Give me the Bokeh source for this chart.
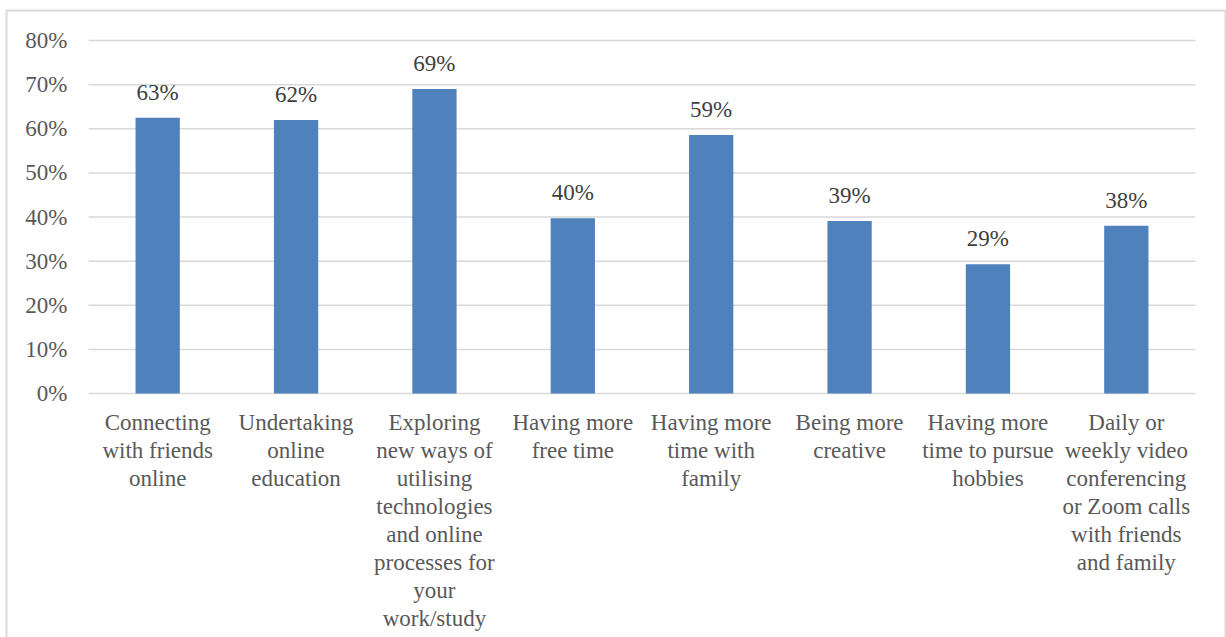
from bokeh.plotting import figure
from bokeh.models import ColumnDataSource, LabelSet, Range1d
from bokeh.embed import file_html
from bokeh.resources import INLINE

categories = [
    "Connecting\nwith friends\nonline",
    "Undertaking\nonline\neducation",
    "Exploring\nnew ways of\nutilising\ntechnologies\nand online\nprocesses for\nyour\nwork/study",
    "Having more\nfree time",
    "Having more\ntime with\nfamily",
    "Being more\ncreative",
    "Having more\ntime to pursue\nhobbies",
    "Daily or\nweekly video\nconferencing\nor Zoom calls\nwith friends\nand family",
]
values = [62.5, 62.0, 69.0, 39.7, 58.6, 39.1, 29.3, 38.0]
value_labels = ["63%", "62%", "69%", "40%", "59%", "39%", "29%", "38%"]
y_ticks = [0, 10, 20, 30, 40, 50, 60, 70, 80]
y_tick_labels = ["0%", "10%", "20%", "30%", "40%", "50%", "60%", "70%", "80%"]

FONT = "Liberation Serif, serif"
TEXT = "#595959"
GRID = "#d9d9d9"
BAR = "#4F81BD"

# canvas / plot-area geometry in pixels
W, H = 1226, 637
PL, PR, PT, PB = 88, 1195, 40, 393          # plot area edges
n = len(categories)
cw = (PR - PL) / n                          # px per category
ppu = (PB - PT) / (y_ticks[-1] - y_ticks[0])  # px per percent

x0 = -0.5 - PL / cw
x1 = n - 0.5 + (W - PR) / cw
y1 = y_ticks[-1] + PT / ppu
y0 = y_ticks[0] - (H - PB) / ppu

def px_x(px):
    return x0 + px / cw

def px_y(py):
    return y1 - py / ppu

idx = list(range(n))
bars = ColumnDataSource(dict(x=idx, val=values, lab=value_labels))

p = figure(x_range=Range1d(x0, x1), y_range=Range1d(y0, y1), width=W, height=H,
           output_backend="svg", toolbar_location=None,
           min_border_left=0, min_border_right=0, min_border_top=0, min_border_bottom=0)
p.outline_line_color = None
p.axis.visible = False
p.grid.visible = False

# chart border
p.multi_line(xs=[[px_x(6), px_x(6), px_x(1225), px_x(1225)]],
             ys=[[px_y(700), px_y(10), px_y(10), px_y(700)]],
             line_color=GRID, line_width=2)

# horizontal gridlines
p.segment(x0=[-0.5] * len(y_ticks), x1=[n - 0.5] * len(y_ticks), y0=y_ticks, y1=y_ticks,
          line_color=GRID, line_width=1.5)

p.vbar(x="x", top="val", width=0.32, source=bars, fill_color=BAR, line_color=None)

p.add_layout(LabelSet(x="x", y="val", text="lab", source=bars, y_offset=18,
                      text_align="center", text_baseline="alphabetic",
                      text_font=FONT, text_font_size="23px", text_color="#404040"))

# y tick labels
yl = ColumnDataSource(dict(x=[-0.5] * len(y_ticks), y=y_ticks, t=y_tick_labels))
p.add_layout(LabelSet(x="x", y="y", text="t", source=yl, x_offset=-21,
                      text_align="right", text_baseline="middle",
                      text_font=FONT, text_font_size="23px", text_color=TEXT))

# category labels, one centred line at a time
cx, cy, ct, co = [], [], [], []
for i, c in enumerate(categories):
    for j, line in enumerate(c.split("\n")):
        cx.append(i)
        cy.append(0)
        ct.append(line)
        co.append(-36 - 28 * j)
cl = ColumnDataSource(dict(x=cx, y=cy, t=ct, off=co))
p.add_layout(LabelSet(x="x", y="y", text="t", source=cl, y_offset="off",
                      text_align="center", text_baseline="alphabetic",
                      text_font=FONT, text_font_size="23px", text_color=TEXT))

open("out.html", "w").write(file_html(p, INLINE))
